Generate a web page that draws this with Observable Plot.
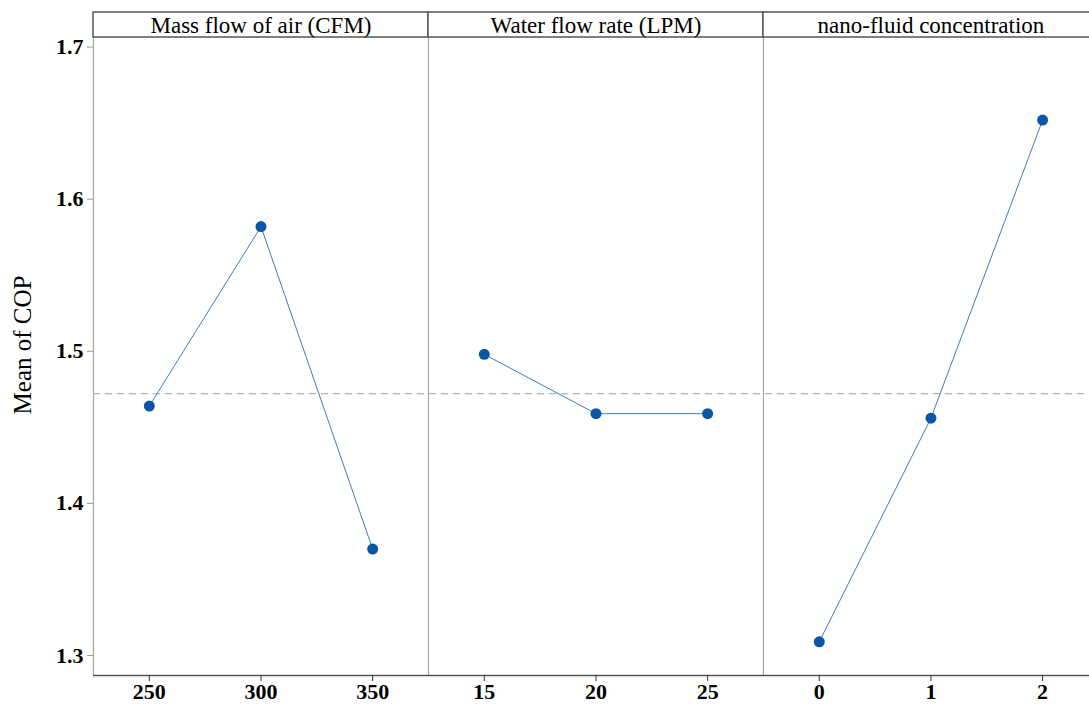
<!DOCTYPE html>
<html>
<head>
<meta charset="utf-8">
<script src="https://cdn.jsdelivr.net/npm/d3@7"></script>
<script src="https://cdn.jsdelivr.net/npm/@observablehq/plot@0.6"></script>
<style>
  html, body { margin: 0; padding: 0; background: #fff; }
  #chart svg { display: block; }
</style>
</head>
<body>
<div id="chart"></div>
<script>
// ---- data ----
const factors = ["Mass flow of air (CFM)", "Water flow rate (LPM)", "nano-fluid concentration"];
const massFlowLevels = ["250", "300", "350"];
const massFlowMeans = [1.464, 1.582, 1.370];
const waterFlowLevels = ["15", "20", "25"];
const waterFlowMeans = [1.498, 1.459, 1.459];
const nanoLevels = ["0", "1", "2"];
const nanoMeans = [1.309, 1.456, 1.652];
const yTicks = [1.3, 1.4, 1.5, 1.6, 1.7];
const yLabel = "Mean of COP";

// ---- build table ----
const levelSets = [massFlowLevels, waterFlowLevels, nanoLevels];
const meanSets = [massFlowMeans, waterFlowMeans, nanoMeans];
const rows = [];
levelSets.forEach((levels, f) => {
  levels.forEach((lv, j) => {
    rows.push({factor: factors[f], idx: f * 3 + j, level: lv, mean: meanSets[f][j]});
  });
});
const tickLabels = rows.map(r => r.level);
const grandMean = d3.mean(rows, r => r.mean);
const panels = factors.map((name, f) => ({name, x1: f * 3 - 0.5, x2: f * 3 + 2.5, cx: f * 3 + 1}));

// ---- layout constants ----
const yMin = 1.28685, yMax = 1.72275, headerBottom = 1.70631;
const serif = "'Liberation Serif', 'Times New Roman', serif";
const blue = "#0a56a6";

const chart = Plot.plot({
  width: 1089,
  height: 704,
  marginLeft: 93,
  marginRight: 0,
  marginTop: 12,
  marginBottom: 29,
  style: {fontFamily: serif, background: "#fff", color: "#000"},
  x: {type: "linear", domain: [-0.5, 8.42]},
  y: {type: "linear", domain: [yMin, yMax]},
  marks: [
    Plot.ruleX([2.5, 5.5], {y1: yMin, y2: headerBottom, stroke: "#a6a6a6", strokeWidth: 1.2}),
    Plot.ruleX([-0.5], {y1: yMin, y2: headerBottom, stroke: "#a6a6a6", strokeWidth: 1.2}),
    Plot.ruleY([grandMean], {stroke: "#b4b4b4", strokeWidth: 1.2, strokeDasharray: "7,5"}),
    Plot.ruleY([yMin], {stroke: "#555", strokeWidth: 1.5}),
    Plot.line(rows, {x: "idx", y: "mean", z: "factor", stroke: "#3b7cc6", strokeWidth: 1}),
    Plot.dot(rows, {x: "idx", y: "mean", r: 5.5, fill: blue, stroke: "none"}),
    Plot.rect(panels, {x1: "x1", x2: "x2", y1: headerBottom, y2: yMax, fill: "#fff", stroke: "#555", strokeWidth: 1.5}),
    Plot.text(panels, {x: "cx", y: (headerBottom + yMax) / 2, text: "name", fontSize: 23, fontFamily: serif, fill: "#000", dy: 1}),
    Plot.axisY({ticks: yTicks, tickFormat: d3.format(".1f"), tickSize: 6, stroke: "#999", fontSize: 22, fontFamily: serif, fontWeight: "bold", tickPadding: 4, label: null}),
    Plot.axisX({ticks: d3.range(9), tickFormat: i => tickLabels[i], tickSize: 6, stroke: "#333", fontSize: 22, fontFamily: serif, fontWeight: "bold", tickPadding: 2, label: null}),
    Plot.text([yLabel], {frameAnchor: "left", textAnchor: "middle", rotate: -90, dx: -71, dy: 1, fontSize: 25, fontFamily: serif, fill: "#000"})
  ]
});
document.getElementById("chart").appendChild(chart);
</script>
</body>
</html>
